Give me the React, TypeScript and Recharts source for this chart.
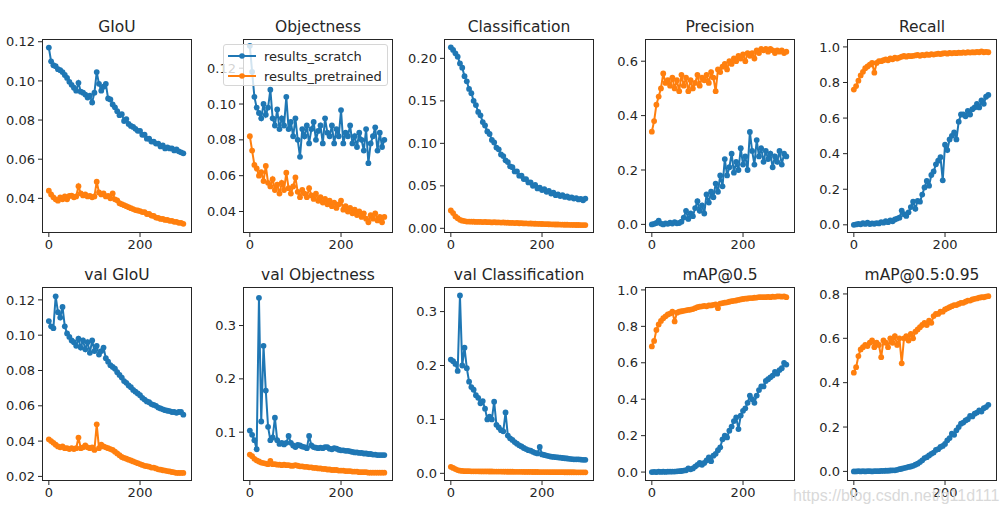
import { Line, LineChart, XAxis, YAxis } from 'recharts'

// one sample every 5 epochs
const epochs = [
  0, 5, 10, 15, 20, 25, 30, 35, 40, 45,
  50, 55, 60, 65, 70, 75, 80, 85, 90, 95,
  100, 105, 110, 115, 120, 125, 130, 135, 140, 145,
  150, 155, 160, 165, 170, 175, 180, 185, 190, 195,
  200, 205, 210, 215, 220, 225, 230, 235, 240, 245,
  250, 255, 260, 265, 270, 275, 280, 285, 290, 295,
]

const giouScratch = [
  0.117, 0.110, 0.108, 0.1075, 0.106, 0.1055, 0.1045, 0.103, 0.1015, 0.0995,
  0.098, 0.0965, 0.095, 0.099, 0.0945, 0.094, 0.093, 0.0915, 0.0925, 0.089,
  0.094, 0.1045, 0.0985, 0.095, 0.097, 0.0985, 0.091, 0.0905, 0.088, 0.0865,
  0.0845, 0.0825, 0.083, 0.0795, 0.0805, 0.078, 0.077, 0.0765, 0.0755, 0.0745,
  0.0745, 0.0725, 0.0725, 0.0705, 0.0705, 0.069, 0.069, 0.068, 0.068, 0.0665,
  0.067, 0.0655, 0.066, 0.0655, 0.0655, 0.0645, 0.065, 0.064, 0.0635, 0.063,
]
const giouPretrained = [
  0.0439, 0.042, 0.0405, 0.0395, 0.0388, 0.0405, 0.0395, 0.041, 0.0395, 0.0412,
  0.0414, 0.0405, 0.041, 0.0462, 0.0425, 0.0415, 0.042, 0.041, 0.0412, 0.0405,
  0.041, 0.0485, 0.043, 0.042, 0.0425, 0.041, 0.0412, 0.040, 0.0425, 0.0395,
  0.039, 0.0375, 0.037, 0.0365, 0.036, 0.0355, 0.035, 0.0345, 0.034, 0.0338,
  0.0335, 0.033, 0.033, 0.032, 0.032, 0.0312, 0.031, 0.0302, 0.030, 0.0295,
  0.0295, 0.029, 0.029, 0.0285, 0.0285, 0.028, 0.028, 0.0275, 0.0275, 0.027,
]

const objScratch = [
  0.1325, 0.118, 0.104, 0.098, 0.095, 0.092, 0.100, 0.094, 0.098, 0.108,
  0.092, 0.088, 0.097, 0.086, 0.092, 0.088, 0.104, 0.086, 0.090, 0.082,
  0.092, 0.080, 0.0705, 0.086, 0.082, 0.088, 0.078, 0.086, 0.090, 0.080,
  0.085, 0.088, 0.078, 0.092, 0.084, 0.082, 0.088, 0.078, 0.086, 0.082,
  0.0966, 0.078, 0.084, 0.082, 0.088, 0.078, 0.082, 0.076, 0.084, 0.080,
  0.074, 0.086, 0.067, 0.078, 0.082, 0.087, 0.074, 0.084, 0.076, 0.080,
]
const objPretrained = [
  0.082, 0.074, 0.066, 0.064, 0.060, 0.062, 0.057, 0.0654, 0.056, 0.054,
  0.058, 0.052, 0.055, 0.050, 0.056, 0.052, 0.0617, 0.053, 0.050, 0.054,
  0.059, 0.051, 0.048, 0.052, 0.050, 0.048, 0.053, 0.049, 0.047, 0.050,
  0.046, 0.048, 0.045, 0.047, 0.044, 0.046, 0.043, 0.045, 0.042, 0.044,
  0.046, 0.041, 0.043, 0.040, 0.042, 0.039, 0.041, 0.038, 0.040, 0.037,
  0.039, 0.036, 0.034, 0.038, 0.036, 0.039, 0.035, 0.037, 0.034, 0.037,
]

const clsScratch = [
  0.213, 0.210, 0.206, 0.202, 0.194, 0.189, 0.179, 0.173, 0.164, 0.159,
  0.150, 0.145, 0.137, 0.133, 0.125, 0.121, 0.114, 0.111, 0.104, 0.101,
  0.095, 0.093, 0.087, 0.085, 0.080, 0.078, 0.073, 0.072, 0.067, 0.067,
  0.062, 0.062, 0.058, 0.058, 0.054, 0.054, 0.050, 0.051, 0.047, 0.048,
  0.045, 0.046, 0.043, 0.044, 0.041, 0.042, 0.039, 0.040, 0.038, 0.039,
  0.037, 0.0375, 0.036, 0.0365, 0.035, 0.0355, 0.034, 0.0345, 0.033, 0.035,
]
const clsPretrained = [
  0.021, 0.018, 0.014, 0.012, 0.010, 0.009, 0.0085, 0.008, 0.008, 0.0078,
  0.0078, 0.0075, 0.0077, 0.0075, 0.0073, 0.0075, 0.0072, 0.0073, 0.007, 0.0072,
  0.007, 0.0071, 0.0068, 0.0069, 0.0066, 0.0067, 0.0064, 0.0065, 0.0062, 0.0063,
  0.006, 0.0061, 0.0058, 0.0059, 0.0056, 0.0057, 0.0055, 0.0054, 0.0053, 0.0052,
  0.0051, 0.005, 0.0049, 0.0048, 0.0047, 0.0046, 0.0045, 0.0045, 0.0044, 0.0043,
  0.0042, 0.0042, 0.0041, 0.004, 0.004, 0.0039, 0.0039, 0.0038, 0.0038, 0.0038,
]

const precScratch = [
  0.0, 0.002, 0.005, 0.014, 0.003, 0.0, 0.004, 0.002, 0.006, 0.003,
  0.008, 0.004, 0.005, 0.01, 0.025, 0.05, 0.02, 0.04, 0.03, 0.06,
  0.085, 0.05, 0.07, 0.04, 0.11, 0.08, 0.12, 0.10, 0.15, 0.12,
  0.18, 0.14, 0.24, 0.18, 0.21, 0.26, 0.19, 0.23, 0.20, 0.28,
  0.22, 0.25, 0.20, 0.34, 0.27, 0.22, 0.31, 0.25, 0.28, 0.23,
  0.27, 0.24, 0.26, 0.21, 0.25, 0.23, 0.27, 0.22, 0.26, 0.25,
]
const precPretrained = [
  0.341, 0.38, 0.44, 0.47, 0.50, 0.555, 0.52, 0.53, 0.51, 0.54,
  0.50, 0.53, 0.49, 0.55, 0.51, 0.54, 0.49, 0.53, 0.50, 0.52,
  0.55, 0.51, 0.54, 0.53, 0.55, 0.52, 0.56, 0.54, 0.49, 0.57,
  0.56, 0.58, 0.59, 0.57, 0.60, 0.59, 0.61, 0.60, 0.62, 0.61,
  0.625, 0.60, 0.63, 0.62, 0.63, 0.61, 0.64, 0.63, 0.645, 0.64,
  0.645, 0.635, 0.645, 0.64, 0.63, 0.64, 0.635, 0.64, 0.63, 0.635,
]

const recScratch = [
  0.0, 0.002, 0.005, 0.003, 0.01, 0.005, 0.012, 0.004, 0.008, 0.006,
  0.01, 0.008, 0.015, 0.012, 0.02, 0.015, 0.025, 0.02, 0.03, 0.035,
  0.04, 0.08, 0.06, 0.05, 0.07, 0.10, 0.13, 0.09, 0.135, 0.13,
  0.17, 0.21, 0.247, 0.22, 0.28, 0.30, 0.34, 0.36, 0.38, 0.25,
  0.45, 0.42, 0.48, 0.50, 0.52, 0.48, 0.58, 0.62, 0.62, 0.61,
  0.64, 0.62, 0.65, 0.66, 0.68, 0.66, 0.70, 0.68, 0.72, 0.73,
]
const recPretrained = [
  0.76, 0.78, 0.81, 0.84, 0.86, 0.88, 0.89, 0.90, 0.91, 0.855,
  0.91, 0.92, 0.92, 0.925, 0.93, 0.925, 0.935, 0.93, 0.94, 0.935,
  0.94, 0.945, 0.95, 0.945, 0.95, 0.948, 0.95, 0.952, 0.955, 0.95,
  0.955, 0.953, 0.958, 0.955, 0.96, 0.957, 0.96, 0.962, 0.96, 0.963,
  0.965, 0.962, 0.966, 0.964, 0.967, 0.965, 0.968, 0.966, 0.969, 0.967,
  0.97, 0.968, 0.97, 0.969, 0.972, 0.97, 0.975, 0.97, 0.972, 0.97,
]

const valGiouScratch = [
  0.108, 0.105, 0.104, 0.122, 0.113, 0.110, 0.116, 0.105, 0.101, 0.099,
  0.097, 0.096, 0.094, 0.098, 0.093, 0.097, 0.092, 0.096, 0.090, 0.097,
  0.091, 0.094, 0.089, 0.091, 0.093, 0.087, 0.085, 0.083, 0.082, 0.081,
  0.079, 0.0775, 0.076, 0.074, 0.073, 0.0715, 0.0705, 0.069, 0.068, 0.067,
  0.066, 0.0645, 0.0635, 0.0625, 0.062, 0.061, 0.0605, 0.060, 0.059, 0.0585,
  0.058, 0.0575, 0.0572, 0.057, 0.0565, 0.0565, 0.056, 0.0565, 0.0565, 0.055,
]
const valGiouPretrained = [
  0.041, 0.040, 0.039, 0.038, 0.037, 0.0365, 0.037, 0.036, 0.036, 0.0355,
  0.036, 0.0355, 0.036, 0.042, 0.036, 0.0365, 0.0375, 0.0365, 0.036, 0.0365,
  0.035, 0.0495, 0.036, 0.038, 0.037, 0.0365, 0.036, 0.0355, 0.035, 0.034,
  0.033, 0.032, 0.031, 0.0305, 0.030, 0.0295, 0.029, 0.0285, 0.028, 0.0275,
  0.027, 0.0265, 0.026, 0.0258, 0.0255, 0.025, 0.025, 0.0245, 0.024, 0.0238,
  0.0235, 0.0233, 0.023, 0.0228, 0.0225, 0.0223, 0.022, 0.022, 0.022, 0.022,
]

const valObjScratch = [
  0.103, 0.095, 0.085, 0.068, 0.352, 0.12, 0.262, 0.178, 0.11, 0.085,
  0.090, 0.127, 0.085, 0.078, 0.080, 0.077, 0.080, 0.093, 0.080, 0.075,
  0.072, 0.076, 0.075, 0.073, 0.072, 0.070, 0.093, 0.075, 0.072, 0.071,
  0.070, 0.071, 0.070, 0.072, 0.072, 0.069, 0.068, 0.070, 0.069, 0.067,
  0.066, 0.066, 0.065, 0.065, 0.064, 0.063, 0.062, 0.062, 0.061, 0.061,
  0.060, 0.060, 0.059, 0.059, 0.058, 0.058, 0.057, 0.057, 0.057, 0.057,
]
const valObjPretrained = [
  0.058, 0.055, 0.050, 0.047, 0.045, 0.043, 0.042, 0.041, 0.040, 0.046,
  0.040, 0.040, 0.039, 0.039, 0.038, 0.039, 0.038, 0.038, 0.037, 0.037,
  0.038, 0.037, 0.036, 0.036, 0.035, 0.035, 0.034, 0.034, 0.033, 0.033,
  0.032, 0.032, 0.031, 0.031, 0.030, 0.030, 0.029, 0.029, 0.029, 0.028,
  0.028, 0.028, 0.027, 0.027, 0.027, 0.026, 0.026, 0.026, 0.025, 0.025,
  0.025, 0.025, 0.024, 0.024, 0.024, 0.024, 0.024, 0.024, 0.024, 0.024,
]

const valClsScratch = [
  0.211, 0.208, 0.203, 0.190, 0.330, 0.200, 0.233, 0.195, 0.170, 0.160,
  0.155, 0.145, 0.140, 0.130, 0.134, 0.120, 0.100, 0.105, 0.100, 0.133,
  0.090, 0.085, 0.080, 0.078, 0.113, 0.070, 0.065, 0.062, 0.058, 0.055,
  0.052, 0.050, 0.047, 0.045, 0.043, 0.042, 0.040, 0.038, 0.037, 0.049,
  0.035, 0.034, 0.033, 0.032, 0.031, 0.0305, 0.030, 0.0295, 0.029, 0.0285,
  0.028, 0.0275, 0.027, 0.0265, 0.026, 0.026, 0.026, 0.0255, 0.025, 0.025,
]
const valClsPretrained = [
  0.012, 0.010, 0.008, 0.006, 0.005, 0.0045, 0.004, 0.004, 0.004, 0.0038,
  0.0038, 0.0037, 0.0037, 0.0036, 0.0036, 0.0035, 0.0035, 0.0034, 0.0034, 0.0033,
  0.0033, 0.0032, 0.0032, 0.0031, 0.0031, 0.003, 0.003, 0.003, 0.0029, 0.0029,
  0.0028, 0.0028, 0.0027, 0.0027, 0.0026, 0.0026, 0.0025, 0.0025, 0.0025, 0.0024,
  0.0024, 0.0023, 0.0023, 0.0023, 0.0022, 0.0022, 0.0022, 0.0021, 0.0021, 0.0021,
  0.002, 0.002, 0.002, 0.002, 0.002, 0.0019, 0.0019, 0.0019, 0.0019, 0.0019,
]

const map50Scratch = [
  0.0, 0.001, 0.0, 0.002, 0.001, 0.002, 0.001, 0.003, 0.002, 0.003,
  0.003, 0.004, 0.005, 0.006, 0.008, 0.01, 0.02, 0.015, 0.02, 0.03,
  0.04, 0.05, 0.04, 0.05, 0.064, 0.08, 0.06, 0.09, 0.10, 0.12,
  0.136, 0.18, 0.20, 0.19, 0.227, 0.25, 0.28, 0.30, 0.236, 0.31,
  0.336, 0.35, 0.38, 0.42, 0.40, 0.38, 0.42, 0.45, 0.47, 0.47,
  0.50, 0.51, 0.52, 0.53, 0.55, 0.54, 0.56, 0.57, 0.60, 0.59,
]
const map50Pretrained = [
  0.69, 0.72, 0.78, 0.81, 0.83, 0.845, 0.855, 0.865, 0.87, 0.88,
  0.827, 0.875, 0.88, 0.883, 0.885, 0.888, 0.89, 0.892, 0.895, 0.9,
  0.905, 0.908, 0.91, 0.912, 0.91, 0.915, 0.915, 0.918, 0.92, 0.90,
  0.925, 0.928, 0.93, 0.932, 0.935, 0.938, 0.94, 0.942, 0.945, 0.948,
  0.95, 0.952, 0.953, 0.955, 0.955, 0.957, 0.958, 0.96, 0.96, 0.96,
  0.96, 0.962, 0.96, 0.963, 0.962, 0.964, 0.965, 0.963, 0.965, 0.96,
]

const map95Scratch = [
  0.0, 0.0, 0.001, 0.0, 0.001, 0.0, 0.001, 0.001, 0.0, 0.001,
  0.001, 0.001, 0.002, 0.002, 0.003, 0.003, 0.004, 0.005, 0.005, 0.007,
  0.01, 0.012, 0.015, 0.017, 0.02, 0.022, 0.025, 0.03, 0.035, 0.042,
  0.05, 0.06, 0.064, 0.072, 0.079, 0.085, 0.097, 0.10, 0.11, 0.115,
  0.124, 0.14, 0.15, 0.17, 0.165, 0.185, 0.20, 0.215, 0.22, 0.23,
  0.235, 0.25, 0.248, 0.26, 0.265, 0.275, 0.27, 0.285, 0.29, 0.30,
]
const map95Pretrained = [
  0.445, 0.47, 0.52, 0.55, 0.56, 0.57, 0.565, 0.58, 0.59, 0.56,
  0.58, 0.57, 0.515, 0.59, 0.58, 0.56, 0.60, 0.58, 0.61, 0.57,
  0.60, 0.487, 0.60, 0.61, 0.59, 0.62, 0.60, 0.63, 0.64, 0.65,
  0.66, 0.67, 0.66, 0.68, 0.67, 0.70, 0.71, 0.71, 0.72, 0.72,
  0.73, 0.735, 0.74, 0.745, 0.75, 0.75, 0.755, 0.76, 0.76, 0.765,
  0.77, 0.77, 0.775, 0.778, 0.78, 0.783, 0.785, 0.785, 0.788, 0.79,
]

const titles = [
  'GIoU', 'Objectness', 'Classification', 'Precision', 'Recall',
  'val GIoU', 'val Objectness', 'val Classification', 'mAP@0.5', 'mAP@0.5:0.95',
]
const seriesNames = ['results_scratch', 'results_pretrained']
const xTicks = [0, 200]

const BLUE = '#1f77b4'
const ORANGE = '#ff7f0e'
const INK = '#262626'
const FONT = '"DejaVu Sans", sans-serif'

const PLOT_W = 150
const PLOT_H = 194
const Y_W = 45
const PAD_T = 6
const PAD_R = 6
const X_H = 26
const COL_LEFT = [42, 243, 444, 645, 847]
const ROW_TOP = [39, 287]

interface PanelSpec {
  title: string
  scratch: number[]
  pretrained: number[]
  domain: [number, number]
  ticks: number[]
  digits: number
}

const panels: PanelSpec[] = [
  { title: titles[0], scratch: giouScratch, pretrained: giouPretrained, domain: [0.0223, 0.1214], ticks: [0.04, 0.06, 0.08, 0.1, 0.12], digits: 2 },
  { title: titles[1], scratch: objScratch, pretrained: objPretrained, domain: [0.028, 0.1363], ticks: [0.04, 0.06, 0.08, 0.1, 0.12], digits: 2 },
  { title: titles[2], scratch: clsScratch, pretrained: clsPretrained, domain: [-0.0055, 0.2228], ticks: [0, 0.05, 0.1, 0.15, 0.2], digits: 2 },
  { title: titles[3], scratch: precScratch, pretrained: precPretrained, domain: [-0.0317, 0.6817], ticks: [0, 0.2, 0.4, 0.6], digits: 1 },
  { title: titles[4], scratch: recScratch, pretrained: recPretrained, domain: [-0.046, 1.0445], ticks: [0, 0.2, 0.4, 0.6, 0.8, 1], digits: 1 },
  { title: titles[5], scratch: valGiouScratch, pretrained: valGiouPretrained, domain: [0.0174, 0.1273], ticks: [0.02, 0.04, 0.06, 0.08, 0.1, 0.12], digits: 2 },
  { title: titles[6], scratch: valObjScratch, pretrained: valObjPretrained, domain: [0.0084, 0.3723], ticks: [0.1, 0.2, 0.3], digits: 1 },
  { title: titles[7], scratch: valClsScratch, pretrained: valClsPretrained, domain: [-0.0142, 0.3456], ticks: [0, 0.1, 0.2, 0.3], digits: 1 },
  { title: titles[8], scratch: map50Scratch, pretrained: map50Pretrained, domain: [-0.049, 1.016], ticks: [0, 0.2, 0.4, 0.6, 0.8, 1], digits: 1 },
  { title: titles[9], scratch: map95Scratch, pretrained: map95Pretrained, domain: [-0.0433, 0.8313], ticks: [0, 0.2, 0.4, 0.6, 0.8], digits: 1 },
]

function Panel({ spec, left, top }: { spec: PanelSpec; left: number; top: number }) {
  const rows = epochs.map((epoch, i) => ({ epoch, scratch: spec.scratch[i], pretrained: spec.pretrained[i] }))
  const tickStyle = { fontSize: 13, fill: INK, fontFamily: FONT }
  return (
    <>
      <div
        style={{
          position: 'absolute',
          left: left - 20,
          top: top - 19,
          width: PLOT_W + 40,
          textAlign: 'center',
          fontSize: 15.5,
          lineHeight: 1,
          color: INK,
          whiteSpace: 'nowrap',
        }}
      >
        {spec.title}
      </div>
      <div style={{ position: 'absolute', left: left - Y_W, top: top - PAD_T }}>
        <LineChart
          width={Y_W + PLOT_W + PAD_R}
          height={PAD_T + PLOT_H + X_H}
          data={rows}
          margin={{ top: PAD_T, right: PAD_R, left: 0, bottom: 0 }}
        >
          <XAxis
            type="number"
            dataKey="epoch"
            domain={[-15, 314]}
            ticks={xTicks}
            height={X_H}
            allowDataOverflow
            axisLine={false}
            tickSize={4}
            tickMargin={3}
            tickLine={{ stroke: INK }}
            tick={tickStyle}
          />
          <YAxis
            type="number"
            domain={spec.domain}
            ticks={spec.ticks}
            width={Y_W}
            allowDataOverflow
            axisLine={false}
            tickSize={4}
            tickMargin={3}
            tickLine={{ stroke: INK }}
            tick={tickStyle}
            tickFormatter={(v: number) => v.toFixed(spec.digits)}
          />
          <Line
            type="linear"
            dataKey="scratch"
            name={seriesNames[0]}
            stroke={BLUE}
            strokeWidth={2}
            dot={{ r: 2.9, fill: BLUE, stroke: BLUE, strokeWidth: 0 }}
            activeDot={false}
            isAnimationActive={false}
          />
          <Line
            type="linear"
            dataKey="pretrained"
            name={seriesNames[1]}
            stroke={ORANGE}
            strokeWidth={2}
            dot={{ r: 2.9, fill: ORANGE, stroke: ORANGE, strokeWidth: 0 }}
            activeDot={false}
            isAnimationActive={false}
          />
        </LineChart>
      </div>
      <div
        style={{
          position: 'absolute',
          left,
          top,
          width: PLOT_W,
          height: PLOT_H,
          border: `1px solid ${INK}`,
          boxSizing: 'border-box',
          pointerEvents: 'none',
        }}
      />
    </>
  )
}

function LegendBox() {
  const entry = (label: string, color: string) => (
    <div style={{ display: 'flex', alignItems: 'center', height: 20 }}>
      <svg width={36} height={10} style={{ marginLeft: 3 }}>
        <line x1={1} y1={5} x2={29} y2={5} stroke={color} strokeWidth={2} />
        <circle cx={15} cy={5} r={2.8} fill={color} />
      </svg>
      <span style={{ marginLeft: 1 }}>{label}</span>
    </div>
  )
  return (
    <div
      style={{
        position: 'absolute',
        left: 223,
        top: 44,
        width: 165,
        height: 42,
        boxSizing: 'border-box',
        background: 'rgba(255,255,255,0.8)',
        border: '1px solid #d6d6d6',
        borderRadius: 3,
        fontSize: 13,
        color: INK,
        paddingTop: 1,
        whiteSpace: 'nowrap',
      }}
    >
      {entry(seriesNames[0], BLUE)}
      {entry(seriesNames[1], ORANGE)}
    </div>
  )
}

export default function App() {
  return (
    <div
      style={{
        position: 'absolute',
        left: 0,
        top: 0,
        width: 1007,
        height: 516,
        background: '#fff',
        fontFamily: FONT,
        overflow: 'hidden',
      }}
    >
      {panels.map((spec, i) => (
        <Panel key={spec.title} spec={spec} left={COL_LEFT[i % 5]} top={ROW_TOP[Math.floor(i / 5)]} />
      ))}
      <LegendBox />
      <div
        style={{
          position: 'absolute',
          left: 793,
          top: 487,
          fontFamily: '"Liberation Sans", Arial, sans-serif',
          fontSize: 16,
          color: '#d9d9d9',
          whiteSpace: 'nowrap',
        }}
      >
        https://blog.csdn.net/g11d111
      </div>
    </div>
  )
}
